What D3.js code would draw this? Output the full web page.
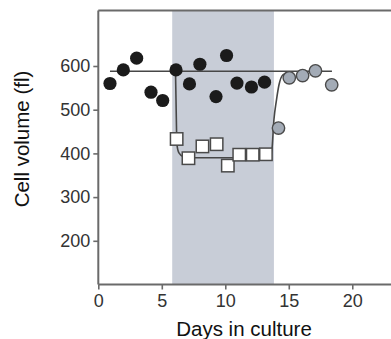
<!DOCTYPE html>
<html>
<head>
<meta charset="utf-8">
<script src="https://cdn.jsdelivr.net/npm/d3@7/dist/d3.min.js"></script>
<style>
  html, body { margin: 0; padding: 0; background: #fff; }
  svg { display: block; }
  text { font-family: "Liberation Sans", Arial, Helvetica, sans-serif; }
</style>
</head>
<body>
<svg id="chart" width="391" height="339"></svg>
<script>
// Control cells: volume (fl) by day
const controlDays = [0.92, 1.97, 3.02, 4.15, 5.07, 6.12, 7.18, 8.0, 9.27, 10.1, 10.92, 12.06, 13.09];
const controlVol  = [560, 591, 618, 540, 521, 591, 559, 604, 530, 624, 561, 552, 563];

// Treated cells during the shaded interval
const treatedDays = [6.17, 7.1, 8.2, 9.32, 10.2, 11.1, 12.16, 13.2];
const treatedVol  = [433, 389, 416, 421, 372, 397, 397, 398];

// Recovery after the treatment is removed
const recoveryDays = [14.19, 15.04, 16.09, 17.1, 18.38];
const recoveryVol  = [458, 573, 578, 589, 557];

// Fitted steady-state line for control cells
const controlFitDays = [0.92, 18.4];
const controlFitVol  = [588, 588];

// Fitted response curve: drop at onset, plateau, return after washout
const responseFitDays = [6.08, 6.12, 6.16, 6.2, 6.35, 6.67, 7.2, 13.5, 13.67, 13.83, 14.03, 14.23, 14.54, 15.1];
const responseFitVol  = [588, 522, 454, 419, 401, 393, 390, 390, 408, 477, 522, 557, 580, 587];

// Treatment interval (days)
const treatStart = 5.82;
const treatEnd = 13.83;

const xTicks = [0, 5, 10, 15, 20];
const yTicks = [200, 300, 400, 500, 600];

const svg = d3.select("#chart");
const plotLeft = 98.3, plotRight = 391, plotTop = 10.5, plotBottom = 284.5;

const x = d3.scaleLinear().domain([0, 23.05]).range([plotLeft, plotRight]);
const y = d3.scaleLinear().domain([100, 727]).range([plotBottom, plotTop]);

const axisColor = "#6a6a6a";
const lineColor = "#474747";

// Shaded treatment window
svg.append("rect")
  .attr("x", x(treatStart))
  .attr("y", plotTop)
  .attr("width", x(treatEnd) - x(treatStart))
  .attr("height", plotBottom - plotTop)
  .attr("fill", "#c8cdd7");

// Frame top edge
svg.append("line")
  .attr("x1", plotLeft).attr("x2", plotRight)
  .attr("y1", plotTop).attr("y2", plotTop)
  .attr("stroke", axisColor).attr("stroke-width", 2);

// Axes
const xAxis = svg.append("g")
  .attr("transform", `translate(0,${plotBottom})`)
  .call(d3.axisBottom(x).tickValues(xTicks).tickSize(5).tickPadding(5).tickFormat(d3.format("d")));
const yAxis = svg.append("g")
  .attr("transform", `translate(${plotLeft},0)`)
  .call(d3.axisLeft(y).tickValues(yTicks).tickSize(5).tickPadding(3).tickFormat(d3.format("d")));

[xAxis, yAxis].forEach(g => {
  g.select(".domain").attr("stroke", axisColor).attr("stroke-width", 2);
  g.selectAll(".tick line").attr("stroke", axisColor).attr("stroke-width", 1.6);
  g.selectAll(".tick text")
    .attr("fill", "#333")
    .style("font-size", "18px")
    .style("font-family", "'Liberation Sans', Arial, sans-serif");
});
// Axis lines run the full frame length
xAxis.select(".domain").attr("d", `M${plotLeft},0H${plotRight}`);
yAxis.select(".domain").attr("d", `M0,${plotTop}V${plotBottom}`);

// Axis titles
svg.append("text")
  .attr("x", 244).attr("y", 336)
  .attr("text-anchor", "middle")
  .style("font-size", "20.5px")
  .attr("fill", "#111")
  .text("Days in culture");

svg.append("text")
  .attr("transform", "translate(29,139) rotate(-90)")
  .attr("text-anchor", "middle")
  .style("font-size", "20.5px")
  .attr("fill", "#111")
  .text("Cell volume (fl)");

// Fit lines
const line = d3.line()
  .x(d => x(d[0])).y(d => y(d[1]))
  .curve(d3.curveMonotoneX);

svg.append("path")
  .datum(d3.zip(controlFitDays, controlFitVol))
  .attr("d", line)
  .attr("fill", "none").attr("stroke", lineColor).attr("stroke-width", 1.6);

svg.append("path")
  .datum(d3.zip(responseFitDays, responseFitVol))
  .attr("d", line)
  .attr("fill", "none").attr("stroke", lineColor).attr("stroke-width", 1.6);

// Control points (black circles)
svg.append("g").selectAll("circle")
  .data(d3.zip(controlDays, controlVol))
  .join("circle")
  .attr("cx", d => x(d[0])).attr("cy", d => y(d[1]))
  .attr("r", 6.6)
  .attr("fill", "#1b1b1b");

// Treated points (open squares)
const sq = 12.4;
svg.append("g").selectAll("rect")
  .data(d3.zip(treatedDays, treatedVol))
  .join("rect")
  .attr("x", d => x(d[0]) - sq / 2).attr("y", d => y(d[1]) - sq / 2)
  .attr("width", sq).attr("height", sq)
  .attr("fill", "#fff")
  .attr("stroke", "#4a4a4a").attr("stroke-width", 1.5);

// Recovery points (grey circles)
svg.append("g").selectAll("circle")
  .data(d3.zip(recoveryDays, recoveryVol))
  .join("circle")
  .attr("cx", d => x(d[0])).attr("cy", d => y(d[1]))
  .attr("r", 6.2)
  .attr("fill", "#a3abb6")
  .attr("stroke", "#4a4a4a").attr("stroke-width", 1.4);
</script>
</body>
</html>
